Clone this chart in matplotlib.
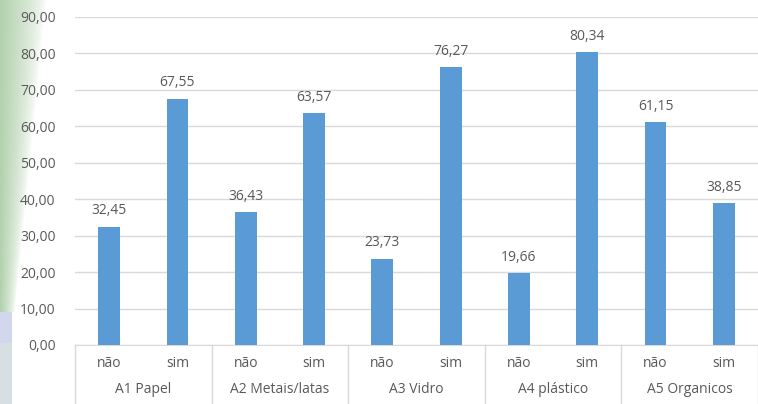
import numpy as np
import matplotlib
matplotlib.use('Agg')
import matplotlib.pyplot as plt

groups = ['A1 Papel', 'A2 Metais/latas', 'A3 Vidro', 'A4 plástico', 'A5 Organicos']
answers = ['não', 'sim']
values = [32.45, 67.55, 36.43, 63.57, 23.73, 76.27, 19.66, 80.34, 61.15, 38.85]
yticks = [0, 10, 20, 30, 40, 50, 60, 70, 80, 90]

plt.rcParams['font.family'] = ['Open Sans', 'DejaVu Sans']
text_color = '#595959'
bar_color = '#5b9bd5'

fig = plt.figure(figsize=(7.58, 4.04), dpi=100)

# decorative strip from the slide background on the left
W, H = 60, 404
img = np.ones((H, W, 3))
cols = np.arange(W)
green = np.array([0.70, 0.82, 0.68])
for r in range(H):
    if r < 312:
        reach = 45 - 31 * r / 312
        a = np.clip(1 - cols / reach, 0, 1) ** 0.7
        img[r] = 1 - a[:, None] * (1 - green)
    elif r < 343:
        img[r, :12] = [0.82, 0.85, 0.93]
    else:
        img[r, :12] = [0.84, 0.88, 0.89]
bg = fig.add_axes([0, 0, W / 758, 1])
bg.imshow(img, aspect='auto', extent=[0, 1, 0, 1])
bg.axis('off')

ax = fig.add_axes([75 / 758, 1 - 345 / 404, 683 / 758, 328 / 404])
ax.patch.set_alpha(0)
x = np.arange(len(values))
ax.bar(x, values, width=0.32, color=bar_color, zorder=3)
for xi, v in zip(x, values):
    ax.annotate(f'{v:.2f}'.replace('.', ','), (xi, v), xytext=(0, 6),
                textcoords='offset points', ha='center', va='bottom',
                fontsize=10, color=text_color)

ax.set_xlim(-0.5, len(values) - 0.5)
ax.set_ylim(0, 90)
ax.set_yticks(yticks)
ax.set_yticklabels([f'{t:.2f}'.replace('.', ',') for t in yticks], fontsize=10, color=text_color)
ax.yaxis.grid(True, color='#d9d9d9', linewidth=1, zorder=0)
ax.tick_params(axis='y', length=0, pad=14)
ax.tick_params(axis='x', length=0, pad=8)
ax.set_xticks(x)
ax.set_xticklabels([answers[i % 2] for i in range(len(values))], fontsize=10, color=text_color)
for s in ['top', 'right', 'left']:
    ax.spines[s].set_visible(False)
ax.spines['bottom'].set_color('#d9d9d9')

# group labels and separators
trans = ax.get_xaxis_transform()
for i, g in enumerate(groups):
    ax.text(2 * i + 0.5, -0.137, g, transform=trans, ha='center', va='center',
            fontsize=10, color=text_color)
for b in np.arange(-0.5, len(values), 2):
    ax.plot([b, b], [0, -0.2], transform=trans, color='#d9d9d9', linewidth=1, clip_on=False)

fig.savefig('out.png', dpi=100)
